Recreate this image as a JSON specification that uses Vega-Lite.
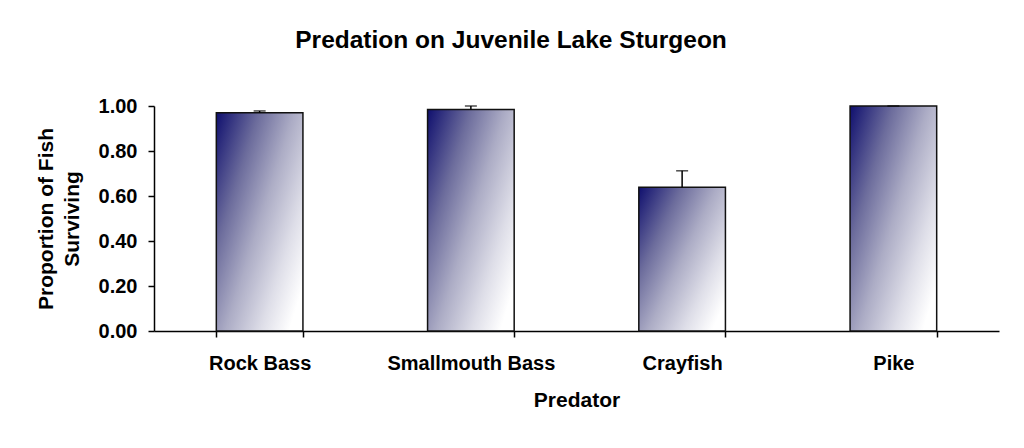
{
  "$schema": "https://vega.github.io/schema/vega-lite/v6.json",
  "autosize": "none",
  "width": 845,
  "height": 225,
  "padding": {"left": 154, "top": 106, "right": 25, "bottom": 117},
  "background": "white",
  "title": {
    "text": "Predation on Juvenile Lake Sturgeon",
    "font": "Liberation Sans",
    "fontSize": 24.5,
    "fontWeight": "bold",
    "color": "#000000",
    "anchor": "middle",
    "frame": "bounds",
    "baseline": "alphabetic",
    "offset": 24,
    "dx": -6
  },
  "data": {
    "values": [
      {"predator": "Rock Bass", "survival": 0.97, "upper": 0.978},
      {"predator": "Smallmouth Bass", "survival": 0.985, "upper": 1.0},
      {"predator": "Crayfish", "survival": 0.639, "upper": 0.712},
      {"predator": "Pike", "survival": 1.0, "upper": 1.0}
    ]
  },
  "encoding": {
    "x": {
      "field": "predator",
      "type": "nominal",
      "sort": null,
      "scale": {"paddingInner": 0.59, "paddingOuter": 0.295},
      "axis": {
        "title": "Predator",
        "labelAngle": 0,
        "tickBand": "extent",
        "tickSize": 6,
        "tickColor": "#000000",
        "domainColor": "#000000",
        "domainWidth": 1.5,
        "tickWidth": 1.5,
        "labelPadding": 16,
        "labelFont": "Liberation Sans",
        "labelFontSize": 20,
        "labelFontWeight": "bold",
        "labelColor": "#000000",
        "titleFont": "Liberation Sans",
        "titleFontSize": 21,
        "titleFontWeight": "bold",
        "titleColor": "#000000",
        "titlePadding": 16
      }
    }
  },
  "layer": [
    {
      "mark": {
        "type": "bar",
        "stroke": "#111111",
        "strokeWidth": 1.5,
        "color": {
          "gradient": "linear",
          "x1": 0, "y1": 0, "x2": 1, "y2": 0.8,
          "stops": [
            {"offset": 0, "color": "#0f0f6e"},
            {"offset": 0.3, "color": "#6c6c9c"},
            {"offset": 0.55, "color": "#acacc5"},
            {"offset": 0.8, "color": "#dedee8"},
            {"offset": 1, "color": "#ffffff"}
          ]
        }
      },
      "encoding": {
        "y": {
          "field": "survival",
          "type": "quantitative",
          "scale": {"domain": [0, 1], "nice": false},
          "axis": {
            "title": ["Proportion of Fish", "Surviving"],
            "titleLineHeight": 26,
            "values": [0, 0.2, 0.4, 0.6, 0.8, 1.0],
            "format": ".2f",
            "grid": false,
            "tickSize": 6,
            "tickWidth": 1.5,
            "tickColor": "#000000",
            "domainColor": "#000000",
            "domainWidth": 1.5,
            "labelPadding": 11,
            "labelFont": "Liberation Sans",
            "labelFontSize": 20,
            "labelFontWeight": "bold",
            "labelColor": "#000000",
            "titleFont": "Liberation Sans",
            "titleFontSize": 21,
            "titleFontWeight": "bold",
            "titleColor": "#000000",
            "titlePadding": 16
          }
        }
      }
    },
    {
      "mark": {"type": "rule", "color": "#000000", "strokeWidth": 1.5},
      "encoding": {
        "y": {"field": "survival", "type": "quantitative"},
        "y2": {"field": "upper"}
      }
    },
    {
      "mark": {"type": "tick", "color": "#000000", "size": 12, "thickness": 1.5, "orient": "horizontal"},
      "encoding": {
        "y": {"field": "upper", "type": "quantitative"}
      }
    }
  ],
  "config": {
    "view": {"stroke": null}
  }
}
